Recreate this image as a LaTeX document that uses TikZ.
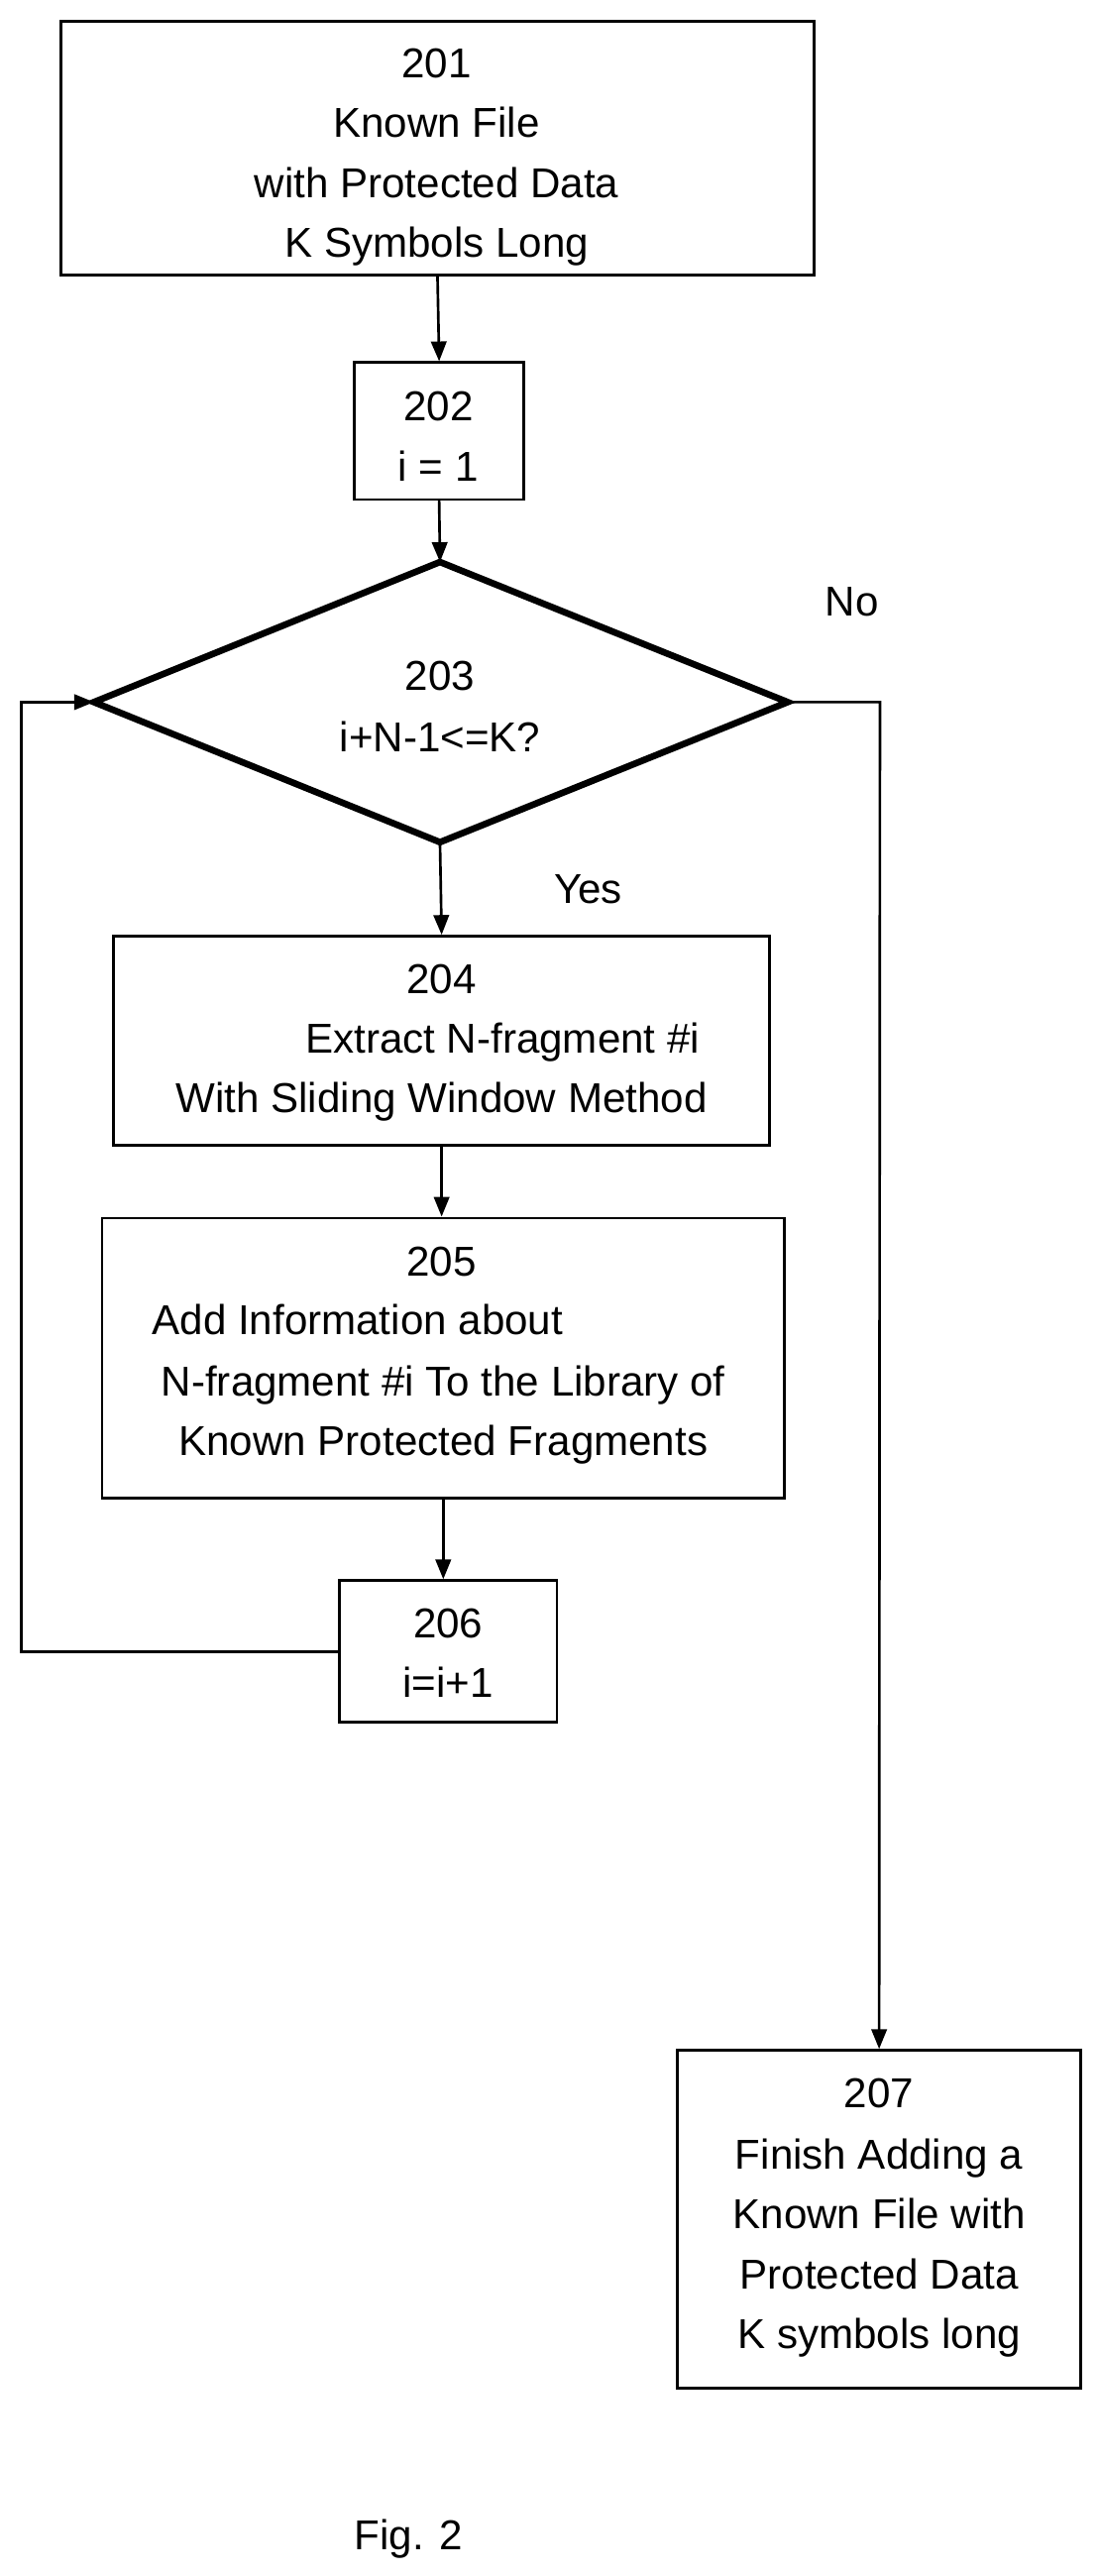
\documentclass[tikz,border=0pt]{standalone}
\usepackage{fontspec}
\setmainfont{Liberation Sans}
\usetikzlibrary{arrows.meta}
\begin{document}
\begin{tikzpicture}[x=0.75pt,y=-0.75pt,
  box/.style={draw,line width=1.2pt,inner sep=0pt},
  txt/.style={font=\fontsize{19}{27}\selectfont,inner sep=0pt,anchor=base},
  arr/.style={line width=1.2pt,-{Triangle[length=9pt,width=7pt]}}]
\useasboundingbox (0,0) rectangle (667,1563);
\node[box,minimum width=457*0.75pt,minimum height=154*0.75pt] (b201) at (265.5,90) {};
\node[box,minimum width=103*0.75pt,minimum height=83*0.75pt] (b202) at (266.5,261.5) {};
\node[box,minimum width=398*0.75pt,minimum height=127*0.75pt] (b204) at (268,631.5) {};
\node[box,minimum width=414*0.75pt,minimum height=170*0.75pt] (b205) at (269,824) {};
\node[box,minimum width=132*0.75pt,minimum height=86*0.75pt] (b206) at (272,1002) {};
\node[box,minimum width=245*0.75pt,minimum height=205*0.75pt] (b207) at (533.5,1346.5) {};
\coordinate (dt) at (267,341); \coordinate (db) at (267,511);
\coordinate (dl) at (57,426); \coordinate (dr) at (478,426);
\draw[line width=3pt,line join=miter] (dt)--(dr)--(db)--(dl)--cycle;
\foreach \t/\y in {201/47,Known File/83,with Protected Data/120,K Symbols Long/156}
  \node[txt] at (265,\y) {\t};
\node[txt] at (266,255) {202}; \node[txt] at (266,292) {i = 1};
\node[txt] at (267,419) {203}; \node[txt] at (267,456) {i+N-1<=K?};
\node[txt] (no) at (517,374) {No}; \node[txt] (yes) at (357,548) {Yes};
\node[txt] at (268,603) {204}; \node[txt] at (305,639) {Extract N-fragment \#i};
\node[txt] at (268,675) {With Sliding Window Method};
\node[txt] at (268,774) {205}; \node[txt] at (217,810) {Add Information about};
\node[txt] at (269,847) {N-fragment \#i To the Library of};
\node[txt] at (269,883) {Known Protected Fragments};
\node[txt] at (272,994) {206}; \node[txt] at (272,1030) {i=i+1};
\foreach \t/\y in {207/1279,Finish Adding a/1316,Known File with/1352,Protected Data/1389,K symbols long/1425}
  \node[txt] at (533.5,\y) {\t};
\node[txt] (fig) at (248,1547) {Fig. 2};
\draw[arr] (b201.south) -- (b202.north);
\draw[arr] (b202.south) -- (dt);
\draw[arr] (db) -- (b204.north);
\draw[arr] (b204.south) -- (b204.south|-b205.north);
\draw[arr] (b205.south) -- (b205.south|-b206.north);
\draw[arr] (b206.west) -- (13,1002) -- (13,426) -- (dl);
\draw[arr] (dr) -- (534,426) -- (b207.north);
\end{tikzpicture}
\end{document}
